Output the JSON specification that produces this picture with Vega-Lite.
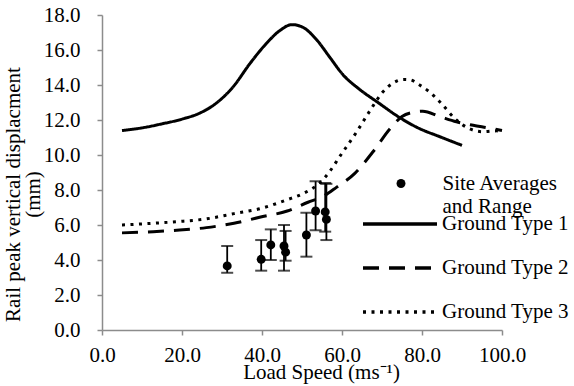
{
  "$schema": "https://vega.github.io/schema/vega-lite/v6.json",
  "width": 400,
  "height": 315,
  "autosize": {"type": "none"},
  "padding": {"left": 102, "top": 15, "right": 72, "bottom": 56},
  "background": "white",
  "view": {"stroke": null},
  "config": {
    "font": "Liberation Serif",
    "axis": {
      "labelFont": "Liberation Serif", "labelFontSize": 21, "labelColor": "black",
      "titleFont": "Liberation Serif", "titleFontSize": 21, "titleColor": "black", "titleFontWeight": "normal",
      "domainColor": "#8c8c8c", "domainWidth": 1.5, "tickColor": "#8c8c8c", "tickWidth": 1.5, "tickSize": 5,
      "grid": false, "labelFlush": false, "labelOverlap": false, "labelBound": false
    },
    "legend": {"labelFont": "Liberation Serif", "labelFontSize": 21, "labelColor": "black"}
  },
  "datasets": {
    "curves": [
      {"series": "Ground Type 1", "speed": 5, "disp": 11.4},
      {"series": "Ground Type 1", "speed": 10, "disp": 11.55},
      {"series": "Ground Type 1", "speed": 15, "disp": 11.78},
      {"series": "Ground Type 1", "speed": 20, "disp": 12.05},
      {"series": "Ground Type 1", "speed": 24.5, "disp": 12.4},
      {"series": "Ground Type 1", "speed": 28.5, "disp": 12.95},
      {"series": "Ground Type 1", "speed": 32.8, "disp": 13.9},
      {"series": "Ground Type 1", "speed": 36.9, "disp": 15.2},
      {"series": "Ground Type 1", "speed": 41, "disp": 16.35},
      {"series": "Ground Type 1", "speed": 44.4, "disp": 17.1},
      {"series": "Ground Type 1", "speed": 47.5, "disp": 17.45},
      {"series": "Ground Type 1", "speed": 50.2, "disp": 17.3},
      {"series": "Ground Type 1", "speed": 53.6, "disp": 16.6},
      {"series": "Ground Type 1", "speed": 56.9, "disp": 15.6},
      {"series": "Ground Type 1", "speed": 60.2, "disp": 14.6},
      {"series": "Ground Type 1", "speed": 64.4, "disp": 13.75},
      {"series": "Ground Type 1", "speed": 69, "disp": 13.0},
      {"series": "Ground Type 1", "speed": 74, "disp": 12.2},
      {"series": "Ground Type 1", "speed": 79, "disp": 11.55},
      {"series": "Ground Type 1", "speed": 84.4, "disp": 11.05},
      {"series": "Ground Type 1", "speed": 90, "disp": 10.55},
      {"series": "Ground Type 2", "speed": 5, "disp": 5.55},
      {"series": "Ground Type 2", "speed": 12.8, "disp": 5.62},
      {"series": "Ground Type 2", "speed": 19.4, "disp": 5.71},
      {"series": "Ground Type 2", "speed": 26.1, "disp": 5.85},
      {"series": "Ground Type 2", "speed": 33, "disp": 6.1},
      {"series": "Ground Type 2", "speed": 39.4, "disp": 6.44},
      {"series": "Ground Type 2", "speed": 46.3, "disp": 6.8},
      {"series": "Ground Type 2", "speed": 51.5, "disp": 7.3},
      {"series": "Ground Type 2", "speed": 55, "disp": 7.6},
      {"series": "Ground Type 2", "speed": 58.6, "disp": 8.15},
      {"series": "Ground Type 2", "speed": 63.2, "disp": 8.95},
      {"series": "Ground Type 2", "speed": 67.8, "disp": 10.2},
      {"series": "Ground Type 2", "speed": 72, "disp": 11.5},
      {"series": "Ground Type 2", "speed": 75, "disp": 12.2},
      {"series": "Ground Type 2", "speed": 78, "disp": 12.45},
      {"series": "Ground Type 2", "speed": 80.2, "disp": 12.5},
      {"series": "Ground Type 2", "speed": 84.4, "disp": 12.2},
      {"series": "Ground Type 2", "speed": 88.6, "disp": 11.9},
      {"series": "Ground Type 2", "speed": 92.8, "disp": 11.7},
      {"series": "Ground Type 2", "speed": 96.5, "disp": 11.55},
      {"series": "Ground Type 2", "speed": 100, "disp": 11.4},
      {"series": "Ground Type 3", "speed": 5, "disp": 6.0},
      {"series": "Ground Type 3", "speed": 12.8, "disp": 6.1},
      {"series": "Ground Type 3", "speed": 19.4, "disp": 6.2},
      {"series": "Ground Type 3", "speed": 26.1, "disp": 6.35},
      {"series": "Ground Type 3", "speed": 33, "disp": 6.65},
      {"series": "Ground Type 3", "speed": 39.8, "disp": 6.95},
      {"series": "Ground Type 3", "speed": 46.1, "disp": 7.43},
      {"series": "Ground Type 3", "speed": 50.3, "disp": 7.8},
      {"series": "Ground Type 3", "speed": 54.4, "disp": 8.4},
      {"series": "Ground Type 3", "speed": 56.9, "disp": 9.05},
      {"series": "Ground Type 3", "speed": 59.4, "disp": 9.9},
      {"series": "Ground Type 3", "speed": 63.6, "disp": 11.3},
      {"series": "Ground Type 3", "speed": 66.9, "disp": 12.5},
      {"series": "Ground Type 3", "speed": 70.2, "disp": 13.6},
      {"series": "Ground Type 3", "speed": 72.7, "disp": 14.1},
      {"series": "Ground Type 3", "speed": 75.5, "disp": 14.32},
      {"series": "Ground Type 3", "speed": 77, "disp": 14.3},
      {"series": "Ground Type 3", "speed": 79.4, "disp": 14.0},
      {"series": "Ground Type 3", "speed": 81.9, "disp": 13.6},
      {"series": "Ground Type 3", "speed": 84.8, "disp": 12.95},
      {"series": "Ground Type 3", "speed": 88.6, "disp": 12.0},
      {"series": "Ground Type 3", "speed": 91.9, "disp": 11.5},
      {"series": "Ground Type 3", "speed": 95.2, "disp": 11.33},
      {"series": "Ground Type 3", "speed": 98.6, "disp": 11.38},
      {"series": "Ground Type 3", "speed": 100, "disp": 11.3}
    ],
    "sites": [
      {"site": "Site Averages", "speed": 31.3, "disp": 3.66, "lo": 3.27, "hi": 4.8},
      {"site": "Site Averages", "speed": 39.8, "disp": 4.04, "lo": 3.39, "hi": 5.14},
      {"site": "Site Averages", "speed": 42.2, "disp": 4.86, "lo": 4.0, "hi": 5.75},
      {"site": "Site Averages", "speed": 45.5, "disp": 4.8, "lo": 3.39, "hi": 6.0},
      {"site": "Site Averages", "speed": 45.9, "disp": 4.45, "lo": 3.96, "hi": 5.66},
      {"site": "Site Averages", "speed": 51.1, "disp": 5.43, "lo": 4.19, "hi": 6.7},
      {"site": "Site Averages", "speed": 53.4, "disp": 6.8, "lo": 5.7, "hi": 8.5},
      {"site": "Site Averages", "speed": 55.8, "disp": 6.75, "lo": 5.62, "hi": 8.4},
      {"site": "Site Averages", "speed": 56.1, "disp": 6.32, "lo": 5.14, "hi": 8.35}
    ]
  },
  "layer": [
    {
      "data": {"name": "curves"},
      "mark": {"type": "line", "interpolate": "monotone", "color": "black", "strokeWidth": 3},
      "encoding": {
        "x": {
          "field": "speed", "type": "quantitative",
          "scale": {"domain": [0, 100], "nice": false},
          "axis": {"values": [0, 20, 40, 60, 80, 100], "format": ".1f", "labelPadding": 9,
                   "labelFont": "Liberation Serif", "labelFontSize": 21, "labelOverlap": false, "labelFlush": false,
                   "title": "Load Speed (ms\u207b\u00b9)", "titleX": 219, "titleY": 48, "titleBaseline": "alphabetic", "titleAnchor": null}
        },
        "y": {
          "field": "disp", "type": "quantitative",
          "scale": {"domain": [0, 18], "nice": false},
          "axis": {"values": [0, 2, 4, 6, 8, 10, 12, 14, 16, 18], "tickCount": 10, "format": ".1f", "labelPadding": 17,
                   "labelFont": "Liberation Serif", "labelFontSize": 21, "labelOverlap": false, "labelFlush": false,
                   "title": ["Rail peak vertical displacment", "(mm)"], "titleAngle": -90,
                   "titleX": -83, "titleY": 179, "titleBaseline": "alphabetic", "titleAlign": "center", "titleLineHeight": 20}
        },
        "strokeDash": {
          "field": "series", "type": "nominal",
          "scale": {"domain": ["Ground Type 1", "Ground Type 2", "Ground Type 3"], "range": [[1, 0], [16, 10], [3, 5.5]]},
          "legend": {
            "orient": "none", "legendX": 281, "legendY": 192, "title": null, "padding": 0,
            "symbolType": "M-2.5,0H2.5", "symbolSize": 876, "symbolStrokeWidth": 3.5, "symbolStrokeColor": "black",
            "labelOffset": 25, "rowPadding": 17
          }
        }
      }
    },
    {
      "data": {"name": "sites"},
      "mark": {"type": "rule", "color": "black", "strokeWidth": 1.8},
      "encoding": {
        "x": {"field": "speed", "type": "quantitative"},
        "y": {"field": "lo", "type": "quantitative"},
        "y2": {"field": "hi"}
      }
    },
    {
      "data": {"name": "sites"},
      "mark": {"type": "tick", "orient": "horizontal", "color": "black", "size": 12, "thickness": 2},
      "encoding": {
        "x": {"field": "speed", "type": "quantitative"},
        "y": {"field": "lo", "type": "quantitative"}
      }
    },
    {
      "data": {"name": "sites"},
      "mark": {"type": "tick", "orient": "horizontal", "color": "black", "size": 12, "thickness": 2},
      "encoding": {
        "x": {"field": "speed", "type": "quantitative"},
        "y": {"field": "hi", "type": "quantitative"}
      }
    },
    {
      "data": {"name": "sites"},
      "mark": {"type": "point", "filled": true, "color": "black", "size": 80, "opacity": 1},
      "encoding": {
        "x": {"field": "speed", "type": "quantitative"},
        "y": {"field": "disp", "type": "quantitative"},
        "shape": {
          "field": "site", "type": "nominal",
          "scale": {"domain": ["Site Averages", "and Range"], "range": ["circle", "M0,0"]},
          "legend": {
            "orient": "none", "legendX": 288.5, "legendY": 158, "title": null, "padding": 0,
            "symbolSize": 80, "symbolFillColor": "black", "symbolStrokeWidth": 0, "symbolOpacity": 1,
            "labelOffset": 31, "rowPadding": 1.5, "labelBaseline": "middle"
          }
        }
      }
    }
  ]
}
